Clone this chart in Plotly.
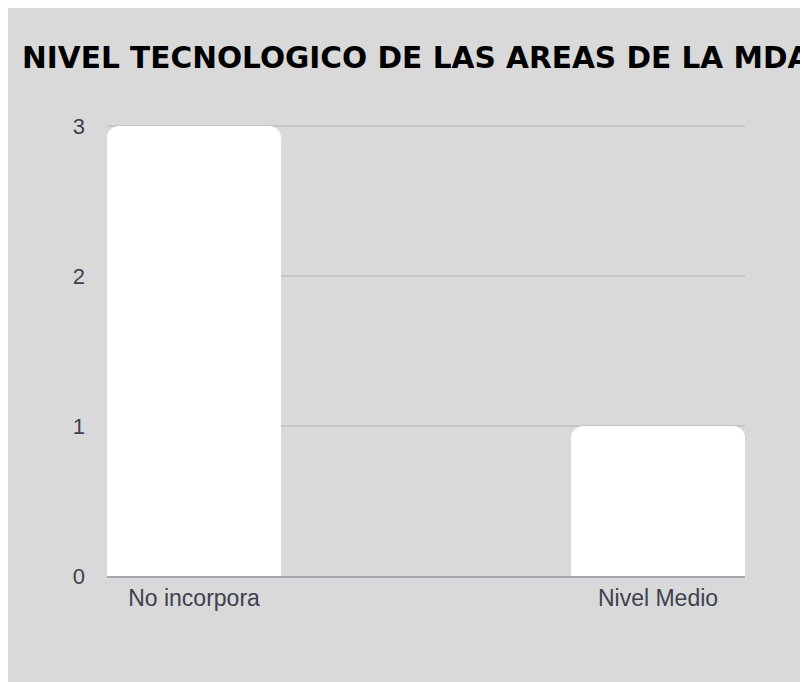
import plotly.graph_objects as go

categories = ["No incorpora", "Nivel Medio"]
values = [3, 1]
y_ticks = [0, 1, 2, 3]
title_text = "NIVEL TECNOLOGICO DE LAS AREAS DE LA MDA"

# the page places the figure 8px from the top-left corner of the window
W, H = 800, 674
ML, MR, MT, MB = 99, 63, 115, 106
pw = W - ML - MR
ph = H - MT - MB

bar_w = 0.375
y_top = 3.0 * ph / (ph - 3)  # keep the top gridline inside the plot

fig = go.Figure(
    go.Bar(
        x=categories,
        y=values,
        width=bar_w,
        marker=dict(color="#ffffff", line=dict(width=0)),
        hoverinfo="x+y",
    )
)

# gray card background
fig.add_shape(
    type="rect", xref="paper", yref="paper",
    x0=-(ML + 5) / pw, x1=(W + 20 - ML) / pw,
    y0=-(MB + 20) / ph, y1=(H - MB + 5) / ph,
    fillcolor="#d9d9d9", line=dict(width=0), layer="below",
)

fig.update_layout(
    width=W, height=H,
    margin=dict(l=ML, r=MR, t=MT, b=MB, pad=0),
    paper_bgcolor="#ffffff",
    plot_bgcolor="rgba(0,0,0,0)",
    barcornerradius=12,
    showlegend=False,
    title=dict(
        text="<b>" + title_text + "</b>",
        font=dict(family="DejaVu Sans", size=29.6, color="#000000"),
        x=14 / W, xanchor="left", xref="container",
        y=1 - 50 / H, yanchor="middle", yref="container",
    ),
    xaxis=dict(
        type="category",
        range=[-bar_w / 2, 1 + bar_w / 2],
        showgrid=False,
        showline=True, linecolor="#a9a8b0", linewidth=2,
        ticks="", ticklen=0,
        tickfont=dict(family="Liberation Sans, Arial", size=23, color="#404050"),
        zeroline=False,
    ),
    yaxis=dict(
        range=[0, y_top],
        tickvals=y_ticks,
        showgrid=True, gridcolor="#c6c6c6", gridwidth=2,
        zeroline=False, showline=False,
        ticks="", ticklen=0,
        tickfont=dict(family="Liberation Sans, Arial", size=22, color="#404050"),
        ticklabelstandoff=21,
    ),
)

fig.write_html("out.html")
